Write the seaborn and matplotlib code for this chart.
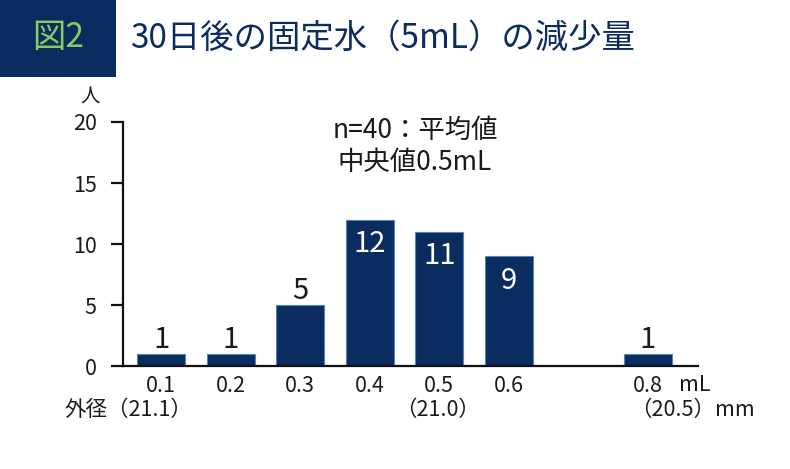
import matplotlib
matplotlib.use("Agg")
import matplotlib.pyplot as plt
import seaborn as sns
import pandas as pd
from matplotlib.patches import Rectangle

# ---- data ----
categories = ["0.1", "0.2", "0.3", "0.4", "0.5", "0.6", "0.8"]
order = ["0.1", "0.2", "0.3", "0.4", "0.5", "0.6", "0.7", "0.8"]
counts = [1, 1, 5, 12, 11, 9, 1]
tick_labels = ["0.1", "0.2", "0.3", "0.4", "0.5", "0.6", "", "0.8"]
y_ticks = [0, 5, 10, 15, 20]
title_tag = "図2"
title_text = "30日後の固定水（5mL）の減少量"
note_lines = ["n=40：平均値", "中央値0.5mL"]
y_unit = "人"
x_unit = "mL"
diam_labels = {"0.1": "外径（21.1）", "0.5": "（21.0）", "0.8": "（20.5）mm"}

NAVY = "#0b2c5f"
EDGE = "#4f86bd"
GREEN = "#86cc62"
TEXT = "#1a1a1a"

sns.set_theme(style="white")
plt.rcParams["font.family"] = ["Noto Sans CJK JP", "DejaVu Sans"]

df = pd.DataFrame({"cat": categories, "n": counts})

fig = plt.figure(figsize=(7.9, 4.69), dpi=100)
W, H = 790, 469
ax = fig.add_axes([123 / W, 1 - 366 / H, (698 - 123) / W, (366 - 122) / H])

sns.barplot(data=df, x="cat", y="n", order=order, color=NAVY, saturation=1,
            width=0.69, edgecolor=EDGE, linewidth=0.8, ax=ax)

ax.set_xlim(-0.55, 7.72)
ax.set_ylim(0, 20)
ax.set_yticks(y_ticks)
ax.set_yticklabels([str(t) for t in y_ticks], fontsize=15.5, color=TEXT)
ax.set_xticks(range(len(order)))
ax.set_xticklabels(tick_labels, fontsize=15.5, color=TEXT)
ax.set_xlabel("")
ax.set_ylabel("")
for s in ["top", "right"]:
    ax.spines[s].set_visible(False)
for s in ["left", "bottom"]:
    ax.spines[s].set_color("#111111")
    ax.spines[s].set_linewidth(1.6)
ax.tick_params(axis="y", which="both", left=True, length=9, width=1.6,
               color="#111111", pad=10)
ax.tick_params(axis="x", which="both", bottom=False, pad=0.5)

# value labels
for c, v in zip(categories, counts):
    xi = order.index(c)
    if v <= 5:
        ax.text(xi, v + 1.15, str(v), ha="center", va="center", fontsize=21, color=TEXT)
    else:
        ax.text(xi, v - 2.0, str(v), ha="center", va="center", fontsize=21, color="white")

# second row (outer diameter)
yrow = -(410 - 366) / (366 - 122)
for c, lab in diam_labels.items():
    xi = order.index(c)
    if c == "0.1":
        ax.text(xi + 0.45, yrow, lab, transform=ax.get_xaxis_transform(),
                ha="right", va="center", fontsize=15.5, color=TEXT)
    elif c == "0.8":
        ax.text(xi - 0.26, yrow, lab, transform=ax.get_xaxis_transform(),
                ha="left", va="center", fontsize=15.5, color=TEXT)
    else:
        ax.text(xi - 0.03, yrow, lab, transform=ax.get_xaxis_transform(),
                ha="center", va="center", fontsize=15.5, color=TEXT)

# unit mL beside 0.8
fig.text(695 / W, 1 - 385 / H, x_unit, ha="center", va="center", fontsize=15.5, color=TEXT)
# y unit
fig.text(90 / W, 1 - 97 / H, y_unit, ha="center", va="center", fontsize=14, color=TEXT)

# note
fig.text(415 / W, 1 - 130 / H, note_lines[0], ha="center", va="center", fontsize=19, color=TEXT)
fig.text(415 / W, 1 - 162 / H, note_lines[1], ha="center", va="center", fontsize=19, color=TEXT)

# header
fig.patches.append(Rectangle((0, 1 - 77 / H), 116 / W, 77 / H, transform=fig.transFigure,
                             facecolor=NAVY, edgecolor="none", zorder=0))
fig.text(58 / W, 1 - 38 / H, title_tag, ha="center", va="center", fontsize=24, color=GREEN)
fig.text(130 / W, 1 - 38 / H, title_text, ha="left", va="center", fontsize=24, color=NAVY)

fig.savefig("out.png", dpi=100)
